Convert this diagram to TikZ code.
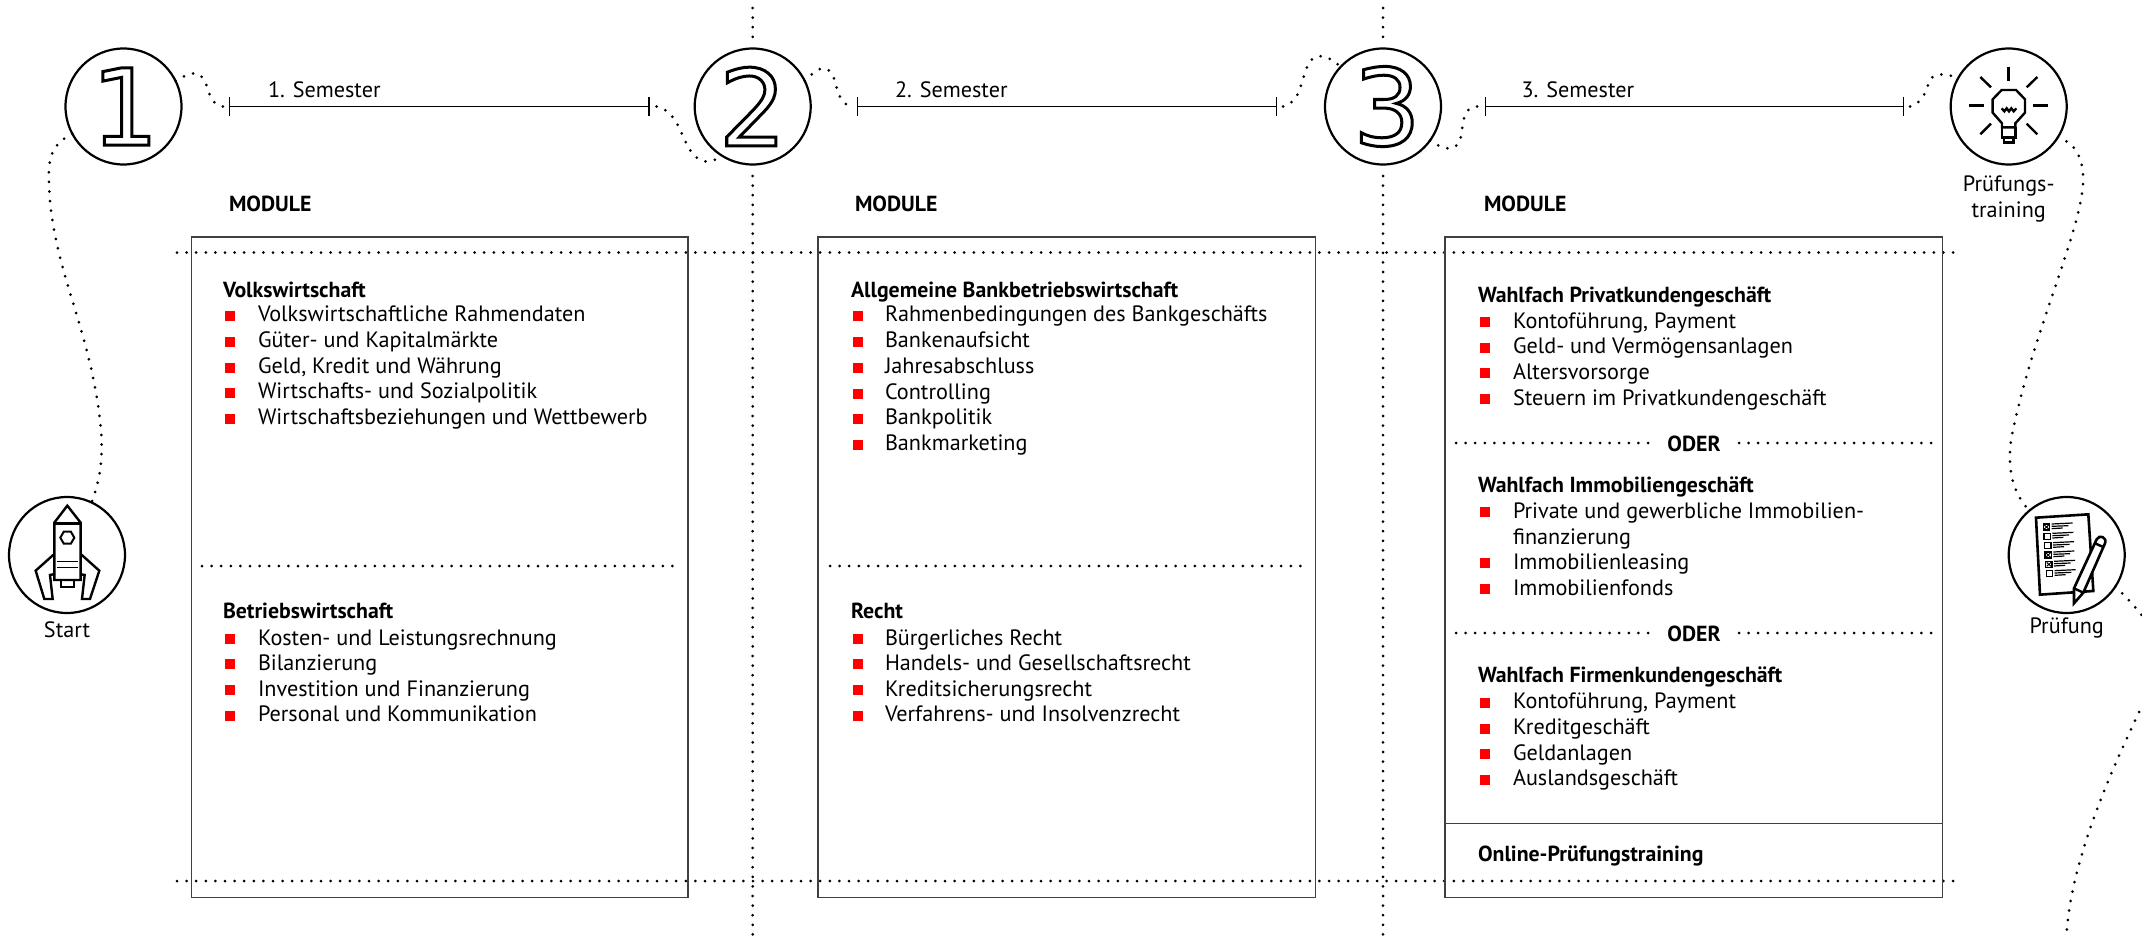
\documentclass[tikz,border=0pt]{standalone}
\usepackage{fontspec}
\setmainfont{PT Sans}
\newfontfamily\numfont{DejaVu Sans}
\usetikzlibrary{arrows.meta,shapes.geometric}
\definecolor{bulletred}{RGB}{255,0,0}
\tikzset{
	every node/.style={inner sep=0pt, outer sep=0pt},
	dots/.style={line width=3pt, line cap=round, dash pattern=on 0pt off 9.6pt},
	stepcircle/.style={circle, draw, line width=2.2pt, minimum size=116pt},
	framebox/.style={draw=black!75, line width=1.6pt},
	semline/.style={line width=1.5pt, {Bar[width=19pt,line width=1.3pt]}-{Bar[width=19pt,line width=1.3pt]}},
	bodytext/.style={anchor=west, text height=18pt, text depth=3pt, font=\fontsize{22.2}{26}\selectfont},
	headtext/.style={anchor=west, text height=18pt, text depth=3pt, font=\fontsize{21.8}{26}\selectfont\bfseries},
	captext/.style={anchor=center, font=\fontsize{22.2}{26}\selectfont, align=center},
	bulletbox/.style={fill=bulletred, minimum width=10pt, minimum height=10pt, anchor=west},
	icon/.style={line width=2.4pt, line join=miter}
}
\newcommand{\outlinedigit}[1]{\numfont\fontsize{106}{106}\selectfont\special{pdf:code 1 Tr 3 w}#1\special{pdf:code 0 Tr}}
\begin{document}
\begin{tikzpicture}[x=1pt, y=-1pt]
	\useasboundingbox (0,0) rectangle (2142,943);

	% separators behind everything
	\draw[dots] (752.7,8) -- (752.7,40);
	\draw[dots] (752.7,176) -- (752.7,943);
	\draw[dots] (1383,8) -- (1383,40);
	\draw[dots] (1383,176) -- (1383,943);
	\draw[dots] (177,252.5) -- (1960,252.5);
	\draw[dots] (177,881) -- (1960,881);

	% frames
	\foreach \nm/\xa/\xb in {boxa/191.5/688, boxb/818/1315.5, boxc/1445/1942.6}
	{
		\draw[framebox] (\xa,237) rectangle (\xb,897.5);
	}
	\draw[dots] (202,566) -- (678,566);
	\draw[dots] (830,566) -- (1306,566);
	\draw[framebox] (1445,823.5) -- (1942.6,823.5);

	% step circles
	\node[stepcircle] (one) at (123.5,106.5) {};
	\node[stepcircle] (two) at (752.7,106.5) {};
	\node[stepcircle] (three) at (1383,106.5) {};
	\node[stepcircle] (bulb) at (2008.7,106.5) {};
	\node[stepcircle] (rocket) at (67,555) {};
	\node[stepcircle] (exam) at (2066.7,555) {};
	\node (numone) at (125,106.5) {\outlinedigit{1}};
	\node (numtwo) at (two) {\outlinedigit{2}};
	\node (numthree) at (1387,106.5) {\outlinedigit{3}};

	% semester lines
	\foreach \nm/\xa/\xb/\xt/\lab in {a/229/649.5/268/1, b/856.6/1277/895/2, c/1484.5/1904/1521.6/3}
	{
		\coordinate (sem\nm start) at (\xa,106.5);
		\coordinate (sem\nm end) at (\xb,106.5);
		\draw[semline] (sem\nm start) -- (sem\nm end);
		\node[bodytext] (semtext\nm) at (\xt,90) {\lab. Semester};
	}
	\foreach \nm/\xt in {a/229, b/855, c/1484}
	{
		\node[headtext] (modhead\nm) at (\xt,204) {MODULE};
	}

	% path of dots
	\draw[dots] (one.26) .. controls (196,68) and (203,72) .. (208,90) .. controls (211,100) and (216,106) .. ([xshift=-6pt]semastart);
	\draw[dots] ([xshift=7pt]semaend) .. controls (680,112) and (680,140) .. (694,155) .. controls (702,164) and (712,163) .. (two.-122);
	\draw[dots] (two.26) .. controls (824,60) and (832,68) .. (836,85) .. controls (839,98) and (844,105) .. ([xshift=-5pt]sembstart);
	\draw[dots] ([xshift=6pt]sembend) .. controls (1300,102) and (1300,85) .. (1306,70) .. controls (1311,52) and (1325,52) .. (three.137);
	\draw[dots] (three.-36) .. controls (1450,154) and (1460,150) .. (1462,130) .. controls (1464,112) and (1468,106) .. ([xshift=-5pt]semcstart);
	\draw[dots] ([xshift=6pt]semcend) .. controls (1925,102) and (1926,88) .. (1930,80) .. controls (1935,72) and (1945,74) .. (bulb.150);
	\draw[dots] (one.-152) .. controls (50,145) and (48,160) .. (49,185) .. controls (52,270) and (92,330) .. (101,430) .. controls (103,460) and (100,480) .. (rocket.65);
	\draw[dots] (bulb.-32) .. controls (2080,145) and (2084,165) .. (2083,185) .. controls (2078,240) and (2030,340) .. (2011,440) .. controls (2008,465) and (2010,490) .. (exam.130);
	\coordinate (pathend) at (2066.7,931);
	\draw[dots] (exam.-33) .. controls (2155,625) and (2170,650) .. (2150,690) .. controls (2110,770) and (2072,860) .. (pathend);

	% captions
	\node[captext] (starttext) at (67,630) {Start};
	\node[captext] (trainingtext) at (2008.7,199) {Prüfungs-\\training};
	\node[captext] (examtext) at (2066.7,628) {Prüfung};

	% modules first column
	\node[headtext] (heada) at (223,289.5) {Volkswirtschaft};
	\foreach \nm/\yy/\lab in {aa/314/Volkswirtschaftliche Rahmendaten, ab/340/Güter- und Kapitalmärkte, ac/366/{Geld, Kredit und Währung}, ad/391/Wirtschafts- und Sozialpolitik, ae/417/Wirtschaftsbeziehungen und Wettbewerb,
		ba/637.5/Kosten- und Leistungsrechnung, bb/662.5/Bilanzierung, bc/688.5/Investition und Finanzierung, bd/714/Personal und Kommunikation}
	{
		\node[bulletbox] (bul\nm) at (225,\yy+1.5) {};
		\node[bodytext] (item\nm) at (258,\yy) {\lab};
	}
	\node[headtext] (headb) at (223,611) {Betriebswirtschaft};

	% modules second column
	\node[headtext] (headc) at (851,289.5) {Allgemeine Bankbetriebswirtschaft};
	\foreach \nm/\yy/\lab in {ca/314/Rahmenbedingungen des Bankgeschäfts, cb/340/Bankenaufsicht, cc/366/Jahresabschluss, cd/392/Controlling, ce/417/Bankpolitik, cf/443/Bankmarketing,
		da/637.5/Bürgerliches Recht, db/662.5/Handels- und Gesellschaftsrecht, dc/688.5/Kreditsicherungsrecht, dd/714/Verfahrens- und Insolvenzrecht}
	{
		\node[bulletbox] (bul\nm) at (853,\yy+1.5) {};
		\node[bodytext] (item\nm) at (885,\yy) {\lab};
	}
	\node[headtext] (headd) at (851,611) {Recht};

	% modules third column
	\node[headtext] (heade) at (1478,294.5) {Wahlfach Privatkundengeschäft};
	\node[headtext] (headf) at (1478,485) {Wahlfach Immobiliengeschäft};
	\node[headtext] (headg) at (1478,675) {Wahlfach Firmenkundengeschäft};
	\foreach \nm/\yy/\lab in {ea/320.5/{Kontoführung, Payment}, eb/346/Geld- und Vermögensanlagen, ec/371.5/Altersvorsorge, ed/397.5/Steuern im Privatkundengeschäft,
		fa/510.5/Private und gewerbliche Immobilien-, fc/561.5/Immobilienleasing, fd/587.5/Immobilienfonds,
		ga/701/{Kontoführung, Payment}, gb/727/Kreditgeschäft, gc/752.5/Geldanlagen, gd/778/Auslandsgeschäft}
	{
		\node[bulletbox] (bul\nm) at (1480,\yy+1.5) {};
		\node[bodytext] (item\nm) at (1513,\yy) {\lab};
	}
	\node[bodytext] (itemfb) at (1513,536.5) {finanzierung};
	\foreach \nm/\yy in {a/443, b/633}
	{
		\draw[dots] (1456,\yy) -- (1651,\yy);
		\draw[dots] (1739,\yy) -- (1935,\yy);
		\node[headtext, anchor=center] (oder\nm) at (1694,\yy+1) {ODER};
	}
	\node[headtext] (online) at (1478,853.5) {Online-Prüfungstraining};

	% rocket
	\begin{scope}[icon, shift={(0,460)}, x=0.3333pt, y=-0.3333pt]
		\draw (202,137) -- (242,188) -- (242,360) -- (170,360) -- (163,360) -- (163,188) -- cycle;
		\draw (163,190) -- (242,190);
		\draw[line width=1pt] (170,305) -- (235,305) (170,322) -- (235,322);
		\node[draw, regular polygon, regular polygon sides=6, minimum size=14pt, line width=2pt] (window) at (202,233) {};
		\draw (163,282) -- (107,332) -- (133,417) -- (158,417) -- (150,345) -- (165,342);
		\draw (242,282) -- (298,332) -- (270,417) -- (246,417) -- (254,345) -- (240,342);
		\draw (183,362) -- (183,381) -- (222,381) -- (222,362);
	\end{scope}

	% bulb
	\begin{scope}[icon, shift={(1900,40)}, x=0.3333pt, y=-0.3333pt]
		\draw (305,150) -- (348,150) -- (375,178) -- (375,218) -- (346,250) -- (346,262) -- (306,262) -- (306,250) -- (278,218) -- (278,178) -- cycle;
		\draw (306,262) -- (306,292) -- (346,292) -- (346,262);
		\draw (312,292) -- (312,307) -- (340,307) -- (340,292);
		\draw (305,205) -- (313,214) -- (320,205) -- (327,214) -- (334,205) -- (341,214) -- (349,205);
		\draw (326,80) -- (326,122);
		\draw (241,111) -- (273,142) (412,111) -- (380,142);
		\draw (208,197) -- (253,197) (399,197) -- (444,197);
		\draw (241,283) -- (273,251) (412,283) -- (380,251);
	\end{scope}

	% sheet and pencil
	\begin{scope}[icon, shift={(1950,480)}, x=0.3333pt, y=-0.3333pt]
		\draw[line width=2.6pt] (258,113) -- (415,103) -- (430,333) -- (270,344) -- cycle;
		\foreach \ya/\xa/\mk in {141/280/1, 169/282/0, 197/284/0, 225/285/1, 253/287/1, 281/289/0}
		{
			\draw[line width=1.5pt] (\xa,\ya-9) rectangle (\xa+19,\ya+9);
			\ifnum\mk=1
				\draw[line width=1pt] (\xa+3,\ya-6) -- (\xa+16,\ya+6) (\xa+16,\ya-6) -- (\xa+3,\ya+6);
			\fi
			\draw[line width=1.2pt] (\xa+25,\ya-9) -- (\xa+88,\ya-12) (\xa+25,\ya-2) -- (\xa+75,\ya-4) (\xa+25,\ya+5) -- (\xa+58,\ya+3);
		}
		\draw[fill=white, line width=2.6pt] (372,325) -- (440,178) .. controls (448,162) and (472,172) .. (465,190) -- (400,338) -- (372,370) -- cycle;
		\draw (372,325) -- (400,338) (435,190) -- (462,202);
	\end{scope}
\end{tikzpicture}
\end{document}
